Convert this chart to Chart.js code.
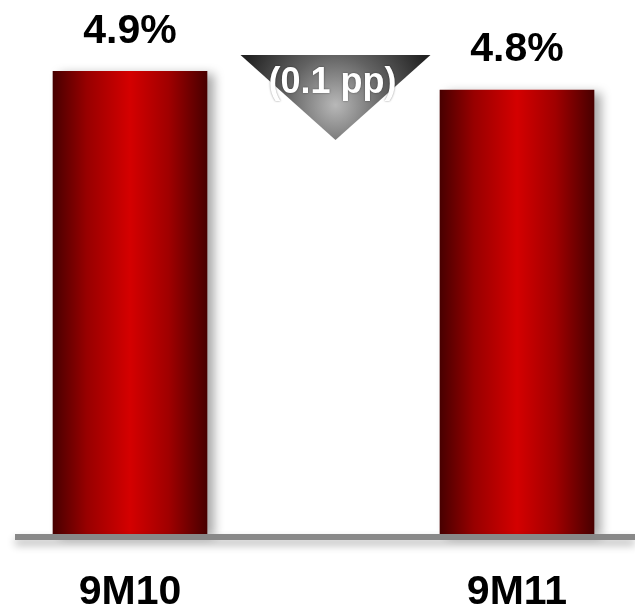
<!DOCTYPE html>
<html>
<head>
<meta charset="utf-8">
<script src="https://cdn.jsdelivr.net/npm/chart.js@4.4.0/dist/chart.umd.min.js"></script>
<style>
  html, body { margin: 0; padding: 0; background: #fff; }
  #wrap { width: 635px; height: 608px; position: relative; }
</style>
</head>
<body>
<div id="wrap"><canvas id="chart"></canvas></div>
<script>
const periods = ['9M10', '9M11'];
const rates = [4.9, 4.8];
const rateLabels = ['4.9%', '4.8%'];
const changeLabel = '(0.1 pp)';
const axisMin = 2.46;
const axisMax = 5.17;

const FONT = 'Arial, "Liberation Sans", sans-serif';
const BAR_W = 154;

// horizontal dark-red-dark gradient per bar
function barGradient(context) {
    const chart = context.chart;
    const xs = chart.scales.x;
    if (!xs || !chart.chartArea) return '#c00000';
    const cx = xs.getPixelForValue(context.dataIndex);
    const g = chart.ctx.createLinearGradient(cx - BAR_W / 2, 0, cx + BAR_W / 2, 0);
    g.addColorStop(0, '#480000');
    g.addColorStop(0.22, '#980000');
    g.addColorStop(0.5, '#d40000');
    g.addColorStop(0.75, '#a00000');
    g.addColorStop(1, '#480000');
    return g;
}

const barShadow = {
    id: 'barShadow',
    beforeDatasetsDraw(chart) {
        const c = chart.ctx;
        c.save();
        c.shadowColor = 'rgba(0, 0, 0, 0.35)';
        c.shadowBlur = 10;
        c.shadowOffsetX = 7;
        c.shadowOffsetY = 3;
    },
    afterDatasetsDraw(chart) {
        chart.ctx.restore();
    }
};

const baseline = {
    id: 'baseline',
    afterDatasetsDraw(chart) {
        const c = chart.ctx;
        const y = chart.scales.y.getPixelForValue(axisMin) + 3;
        c.save();
        c.shadowColor = 'rgba(0, 0, 0, 0.3)';
        c.shadowBlur = 8;
        c.shadowOffsetY = 5;
        c.strokeStyle = '#888888';
        c.lineWidth = 6;
        c.beginPath();
        c.moveTo(15, y);
        c.lineTo(chart.width, y);
        c.stroke();
        c.restore();
    }
};

const valueLabels = {
    id: 'valueLabels',
    afterDatasetsDraw(chart) {
        const c = chart.ctx;
        const meta = chart.getDatasetMeta(0);
        c.save();
        c.font = 'bold 41px ' + FONT;
        c.fillStyle = '#000';
        c.textAlign = 'center';
        c.textBaseline = 'middle';
        meta.data.forEach((bar, i) => {
            c.fillText(rateLabels[i], bar.x, bar.y - 40);
        });
        c.restore();
    }
};

// grey down-triangle with the change between the two periods
const changeMarker = {
    id: 'changeMarker',
    afterDatasetsDraw(chart) {
        const c = chart.ctx;
        const bars = chart.getDatasetMeta(0).data;
        const cx = (bars[0].x + bars[1].x) / 2 + 12;
        const top = chart.chartArea.top + 35;
        const hw = 95, h = 85;
        c.save();
        const g = c.createRadialGradient(cx, top + 50, 0, cx, top + 50, 100);
        g.addColorStop(0, '#b8b8b8');
        g.addColorStop(0.5, '#626262');
        g.addColorStop(1, '#222222');
        c.fillStyle = g;
        c.beginPath();
        c.moveTo(cx - hw, top);
        c.lineTo(cx + hw, top);
        c.lineTo(cx, top + h);
        c.closePath();
        c.fill();
        c.font = 'bold 36px ' + FONT;
        c.fillStyle = '#fff';
        c.textAlign = 'center';
        c.textBaseline = 'middle';
        c.shadowColor = 'rgba(0, 0, 0, 0.5)';
        c.shadowBlur = 2;
        c.fillText(changeLabel, cx - 3, top + 28);
        c.restore();
    }
};

new Chart(document.getElementById('chart'), {
    type: 'bar',
    data: {
        labels: periods,
        datasets: [{
            data: rates,
            base: axisMin,
            backgroundColor: barGradient,
            borderWidth: 0,
            barThickness: BAR_W,
            clip: false
        }]
    },
    options: {
        responsive: true,
        maintainAspectRatio: false,
        animation: false,
        layout: { padding: { left: 130, right: 118, top: 20, bottom: -43 } },
        plugins: { legend: { display: false }, tooltip: { enabled: false } },
        scales: {
            x: {
                offset: false,
                grid: { display: false, drawTicks: false },
                border: { display: false },
                ticks: {
                    color: '#000',
                    padding: 38,
                    maxRotation: 0,
                    autoSkip: false,
                    font: { family: FONT, size: 41, weight: 'bold', lineHeight: 1 }
                }
            },
            y: {
                display: false,
                min: axisMin,
                max: axisMax
            }
        }
    },
    plugins: [barShadow, baseline, valueLabels, changeMarker]
});
</script>
</body>
</html>
